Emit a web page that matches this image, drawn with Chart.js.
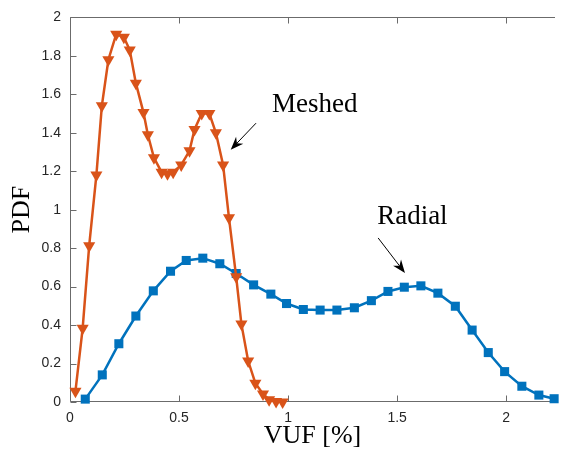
<!DOCTYPE html>
<html>
<head>
<meta charset="utf-8">
<title>VUF PDF</title>
<script src="https://cdn.jsdelivr.net/npm/chart.js@4.4.1/dist/chart.umd.min.js"></script>
<style>
  html, body { margin: 0; padding: 0; background: #fff; }
</style>
</head>
<body>
<canvas id="pdfChart" width="562" height="460"></canvas>
<script>
// Meshed network: VUF sample points [%] and estimated density
const meshedVuf = [0.025, 0.058, 0.088, 0.121, 0.146, 0.176, 0.212, 0.247, 0.274, 0.302,
                   0.337, 0.357, 0.385, 0.420, 0.447, 0.473, 0.510, 0.548, 0.571, 0.604,
                   0.639, 0.669, 0.702, 0.729, 0.762, 0.786, 0.817, 0.850, 0.885, 0.913,
                   0.945, 0.975];
const meshedPdf = [0.056, 0.383, 0.813, 1.180, 1.540, 1.780, 1.913, 1.897, 1.830, 1.658,
                   1.505, 1.390, 1.270, 1.195, 1.187, 1.195, 1.233, 1.306, 1.417, 1.500,
                   1.500, 1.400, 1.233, 0.958, 0.651, 0.405, 0.213, 0.098, 0.042, 0.012,
                   0.002, 0.000];

// Radial network
const radialVuf = [0.070, 0.148, 0.224, 0.302, 0.382, 0.461, 0.533, 0.609, 0.687, 0.762,
                   0.842, 0.921, 0.993, 1.070, 1.147, 1.224, 1.304, 1.382, 1.458, 1.533,
                   1.609, 1.687, 1.767, 1.844, 1.918, 1.993, 2.072, 2.150, 2.220];
const radialPdf = [0.015, 0.141, 0.303, 0.447, 0.578, 0.680, 0.736, 0.748, 0.719, 0.668,
                   0.609, 0.561, 0.512, 0.481, 0.478, 0.478, 0.490, 0.527, 0.575, 0.597,
                   0.604, 0.566, 0.498, 0.374, 0.257, 0.158, 0.082, 0.036, 0.017];

const xTicks = [0, 0.5, 1, 1.5, 2];
const yTicks = [0, 0.2, 0.4, 0.6, 0.8, 1, 1.2, 1.4, 1.6, 1.8, 2];

// text labels with arrows, in data units: [text, textX, textY, fromX, fromY, tipX, tipY]
const callouts = [
    ['Meshed', 1.122, 1.506, 0.853, 1.450, 0.737, 1.312],
    ['Radial', 1.570, 0.927, 1.413, 0.853, 1.536, 0.671]
];

const serif = '"Liberation Serif", "Times New Roman", serif';
const labelColor = '#262626';
const lineColor = '#6b6b6b';

function toPoints(xs, ys) {
    return xs.map((x, i) => ({ x: x, y: ys[i] }));
}

function drawArrow(ctx, x0, y0, x1, y1) {
    const a = Math.atan2(y1 - y0, x1 - x0);
    const c = Math.cos(a), s = Math.sin(a);
    const len = 13, half = 5, notch = 9;
    ctx.beginPath();
    ctx.moveTo(x0, y0);
    ctx.lineTo(x1 - c * notch, y1 - s * notch);
    ctx.stroke();
    ctx.beginPath();
    ctx.moveTo(x1, y1);
    ctx.lineTo(x1 - c * len - s * half, y1 - s * len + c * half);
    ctx.lineTo(x1 - c * notch, y1 - s * notch);
    ctx.lineTo(x1 - c * len + s * half, y1 - s * len - c * half);
    ctx.closePath();
    ctx.fill();
}

// box lines and inward tick marks, drawn under the data
const axesBox = {
    id: 'axesBox',
    beforeDatasetsDraw(chart) {
        const { ctx, chartArea: ca, scales: { x, y } } = chart;
        const L = Math.round(ca.left) + 0.5, B = Math.round(ca.bottom) - 0.5, T = Math.round(ca.top) + 0.5;
        ctx.save();
        ctx.strokeStyle = lineColor;
        ctx.lineWidth = 1;
        ctx.beginPath();
        ctx.moveTo(ca.right, T); ctx.lineTo(L, T); ctx.lineTo(L, B); ctx.lineTo(ca.right, B);
        yTicks.forEach(v => {
            const py = Math.round(y.getPixelForValue(v)) + 0.5;
            ctx.moveTo(L, py); ctx.lineTo(L + 6, py);
        });
        xTicks.forEach(v => {
            const px = Math.round(x.getPixelForValue(v)) + 0.5;
            ctx.moveTo(px, B); ctx.lineTo(px, B - 6);
            ctx.moveTo(px, T); ctx.lineTo(px, T + 6);
        });
        ctx.stroke();
        ctx.restore();
    },
    afterDraw(chart) {
        const { ctx, scales: { x, y } } = chart;
        ctx.save();
        ctx.fillStyle = '#000';
        ctx.strokeStyle = '#000';
        ctx.lineWidth = 1;
        ctx.font = '27px ' + serif;
        ctx.textAlign = 'center';
        ctx.textBaseline = 'alphabetic';
        callouts.forEach(([label, tx, ty, fx, fy, ax, ay]) => {
            ctx.fillText(label, x.getPixelForValue(tx), y.getPixelForValue(ty));
            drawArrow(ctx, x.getPixelForValue(fx), y.getPixelForValue(fy),
                      x.getPixelForValue(ax), y.getPixelForValue(ay));
        });
        ctx.restore();
    }
};

const ctx = document.getElementById('pdfChart').getContext('2d');
const pdfChart = new Chart(ctx, {
    type: 'line',
    data: {
        datasets: [
            {
                label: 'Meshed',
                data: toPoints(meshedVuf, meshedPdf),
                borderColor: '#D95319',
                backgroundColor: '#D95319',
                borderWidth: 2.5,
                pointStyle: 'triangle',
                rotation: 180,
                pointRadius: 7,
                pointHoverRadius: 7,
                pointBorderWidth: 0,
                tension: 0,
                clip: false
            },
            {
                label: 'Radial',
                data: toPoints(radialVuf, radialPdf),
                borderColor: '#0072BD',
                backgroundColor: '#0072BD',
                borderWidth: 2.5,
                pointStyle: 'rect',
                pointRadius: 6.4,
                pointHoverRadius: 6.4,
                pointBorderWidth: 0,
                tension: 0,
                clip: false
            }
        ]
    },
    options: {
        responsive: false,
        animation: false,
        events: [],
        layout: { padding: { top: 9, right: 0, left: 0, bottom: 0 } },
        plugins: {
            legend: { display: false },
            tooltip: { enabled: false }
        },
        scales: {
            x: {
                type: 'linear',
                min: 0,
                max: 2.224,
                grid: { display: false, drawTicks: false },
                border: { display: false },
                afterBuildTicks: s => { s.ticks = xTicks.map(v => ({ value: v })); },
                afterFit: s => { s.height = 58; },
                ticks: {
                    padding: 8,
                    color: labelColor,
                    font: { family: '"Liberation Sans", Arial, sans-serif', size: 14 },
                    maxRotation: 0,
                    callback: v => String(v)
                },
                title: {
                    display: true,
                    text: 'VUF [%]',
                    color: '#000',
                    font: { family: serif, size: 26 },
                    padding: { top: 0, bottom: 8 }
                }
            },
            y: {
                type: 'linear',
                min: 0,
                max: 2,
                grid: { display: false, drawTicks: false },
                border: { display: false },
                afterBuildTicks: s => { s.ticks = yTicks.map(v => ({ value: v })); },
                afterFit: s => { s.width = 70; },
                ticks: {
                    padding: 9,
                    color: labelColor,
                    font: { family: '"Liberation Sans", Arial, sans-serif', size: 14 },
                    callback: v => String(v)
                },
                title: {
                    display: true,
                    text: 'PDF',
                    color: '#000',
                    font: { family: serif, size: 26 },
                    padding: { top: 7, bottom: 0 }
                }
            }
        }
    },
    plugins: [axesBox]
});
</script>
</body>
</html>
